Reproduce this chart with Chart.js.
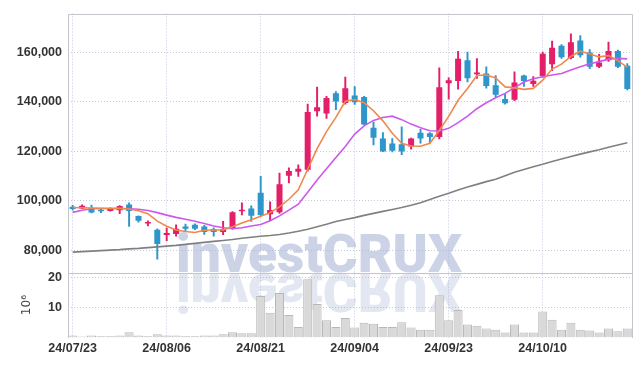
<!DOCTYPE html>
<html><head><meta charset="utf-8">
<script src="https://cdn.jsdelivr.net/npm/chart.js@4.4.1/dist/chart.umd.min.js"></script>
<style>html,body{margin:0;padding:0;background:#fff;overflow:hidden}</style>
</head><body>
<canvas id="c" width="642" height="366"></canvas>
<script>
const dates = ["24/07/23","24/07/24","24/07/25","24/07/26","24/07/29","24/07/30","24/07/31","24/08/01","24/08/02","24/08/05",
"24/08/06","24/08/07","24/08/08","24/08/09","24/08/12","24/08/13","24/08/14","24/08/16","24/08/19","24/08/20",
"24/08/21","24/08/22","24/08/23","24/08/26","24/08/27","24/08/28","24/08/29","24/08/30","24/09/02","24/09/03",
"24/09/04","24/09/05","24/09/06","24/09/09","24/09/10","24/09/11","24/09/12","24/09/13","24/09/19","24/09/20",
"24/09/23","24/09/24","24/09/25","24/09/26","24/09/27","24/09/30","24/10/02","24/10/04","24/10/07","24/10/08",
"24/10/10","24/10/11","24/10/14","24/10/15","24/10/16","24/10/17","24/10/18","24/10/21","24/10/22","24/10/23"];
const openP = [97700,97000,97000,96100,96000,96300,98600,93900,90900,88450,
86300,86700,89750,90400,89750,88700,87500,89000,95900,97000,
103300,94650,95450,110150,111750,112550,136200,135250,143450,139500,
142550,141900,129550,125150,123200,122900,122000,127550,127300,125850,
147450,148400,156750,151150,151450,146650,141100,140800,150550,147200,
150350,155150,162600,157700,164700,159900,154100,156750,160450,154500];
const highP = [98300,98500,98400,97000,97200,98100,99300,94000,92000,88800,
89100,90400,90650,90800,90200,89200,91750,95700,99300,98000,
109900,99700,111250,113350,114550,139100,145900,142200,144150,150000,
146150,142200,131800,127550,125150,129950,125400,128900,127600,153700,
149700,160300,160050,157400,154100,150550,143200,152100,150800,150150,
160050,164450,163100,167400,166700,161100,159100,164050,160800,155400];
const lowP = [96300,96900,95200,95300,95900,94900,89750,91500,89900,76500,
84050,85800,87750,88400,86500,85800,86450,88600,94400,91750,
94000,92000,95000,107250,109900,112000,134200,133250,136850,139000,
138900,130750,122650,119900,119800,118700,120900,123300,123300,125000,
141100,145050,148000,149450,145450,142000,139000,140500,146150,146150,
149800,152500,157500,157300,158000,153400,153800,156300,153800,144800];
const closeP = [96800,98100,95400,95900,97000,98000,96000,92000,91000,82700,
87100,88850,88850,88850,87500,87500,88700,95450,96400,94000,
94400,96400,106750,112050,112950,135900,137800,141500,140150,145450,
139800,130850,125550,120000,120300,120000,125150,125150,125850,145850,
148650,157400,149450,151850,146400,142800,139400,147750,148400,148500,
159400,161800,157950,164050,158750,154100,155800,160450,154100,145200];
const ma5 = [97400,97300,97200,97100,97000,97100,96800,96100,94900,91900,
89800,88300,87700,87300,88200,88300,88300,89600,91100,92400,
93800,95300,97600,100700,104500,112800,121100,128000,133700,140200,
140900,139600,136400,132300,127300,123300,122200,122100,123300,128400,
134100,140600,145400,150600,150800,149600,146000,145600,145000,145400,
148700,153200,155200,158300,160400,159300,158100,158600,156600,153900];
const ma20 = [95400,96300,96900,97000,97000,97000,96900,96700,96200,95300,
94300,93400,92600,91800,90900,89900,89200,88800,89200,89900,
90500,92000,94000,96300,98700,103500,108500,113000,117500,122000,
127000,130300,132500,133700,134200,132800,131000,129500,128300,128200,
129300,131600,134200,137200,139600,141600,143400,145700,148000,149300,
150100,150800,151400,152800,154100,155300,156200,157200,157500,157300];
const ma120 = [79400,79600,79800,80000,80200,80400,80700,80900,81200,81500,
81800,82100,82500,82900,83300,83700,84100,84500,85000,85400,
85800,86100,86500,87100,87800,88600,89600,90600,91700,92500,
93300,94200,95000,95800,96600,97400,98300,99300,100600,101900,
103100,104400,105600,106700,107800,108800,110200,111600,112700,113800,
114800,115900,116900,117900,118900,119800,120700,121700,122600,123500];
const volumeM = [0.7,0.35,0.7,0.4,0.4,0.7,1.75,0.7,0.4,1.1,
0.7,0.7,0.4,0.4,0.7,0.7,1.1,1.75,1.4,1.4,
13.8,8.2,14.8,7.5,3.5,19.3,11.1,5.7,3.5,6.5,
3.3,4.9,4.6,3.5,3.5,5.1,3.3,2.6,2.6,14.0,
5.7,9.1,4.3,3.9,3.0,2.6,1.7,4.3,1.7,1.7,
8.6,5.9,2.6,4.9,2.6,2.3,1.7,3.0,2.1,3.0];
const priceTicks = [80000,100000,120000,140000,160000];
const volumeTicks = [10,20];
const labelEvery = 10;

const UP = '#E31F6A', DOWN = '#2F96CB';
const candleColors = closeP.map((c,i)=> c>=openP[i] ? UP : DOWN);
const GRID = '#c3c9dc';
const TICKFONT = {family:"'Liberation Sans',Arial,sans-serif", size:12.5, weight:'bold'};

const watermark = {
  id:'watermark',
  beforeDatasetsDraw(chart){
    const ctx = chart.ctx;
    const txt = 'investCRUX';
    ctx.save();
    ctx.font = '900 54px Roboto, "DejaVu Sans", sans-serif';
    const w = ctx.measureText(txt).width;
    const sx = 286 / w;
    const cx = 319, base = 272;
    ctx.translate(cx, base);
    ctx.scale(sx, 1);
    ctx.textAlign = 'center';
    ctx.textBaseline = 'alphabetic';
    ctx.fillStyle = 'rgba(168,180,214,0.58)';
    ctx.fillText(txt, 0, 0);
    ctx.scale(1, -1);
    ctx.fillStyle = 'rgba(168,180,214,0.32)';
    ctx.fillText(txt, 0, -2);
    ctx.restore();
  }
};
const frame = {
  id:'frame',
  afterDraw(chart){
    const ctx = chart.ctx, a = chart.chartArea;
    const sep = chart.scales.y.bottom;
    ctx.save();
    ctx.strokeStyle = '#c4c4cc';
    ctx.lineWidth = 1;
    ctx.beginPath();
    ctx.moveTo(Math.round(a.left)+0.5, Math.round(a.bottom));
    ctx.lineTo(Math.round(a.left)+0.5, Math.round(a.top)+0.5);
    ctx.lineTo(Math.round(a.right)+0.5, Math.round(a.top)+0.5);
    ctx.lineTo(Math.round(a.right)+0.5, Math.round(a.bottom));
    ctx.moveTo(Math.round(a.left), Math.round(sep)+0.5);
    ctx.lineTo(Math.round(a.right)+1, Math.round(sep)+0.5);
    ctx.stroke();
    ctx.restore();
  }
};

new Chart(document.getElementById('c'), {
  type:'bar',
  data:{
    labels: dates,
    datasets:[
      {type:'line', data:ma5, borderColor:'#F0884C', borderWidth:1.6, pointRadius:0, yAxisID:'y', order:0},
      {type:'line', data:ma20, borderColor:'#CC58EC', borderWidth:1.6, pointRadius:0, yAxisID:'y', order:0},
      {type:'line', data:ma120, borderColor:'#808080', borderWidth:1.6, pointRadius:0, yAxisID:'y', order:0},
      {type:'bar', data: openP.map((o,i)=>[o, closeP[i]]), backgroundColor:candleColors, yAxisID:'y', grouped:false, barPercentage:0.64, categoryPercentage:1, minBarLength:1.5, order:1},
      {type:'bar', data: lowP.map((l,i)=>[l, highP[i]]), backgroundColor:candleColors, yAxisID:'y', grouped:false, barThickness:1.3, order:2},
      {type:'bar', data: volumeM, backgroundColor:'#d9d9d9', borderColor:'#b8b8b8', borderWidth:1, yAxisID:'v', grouped:false, barPercentage:0.96, categoryPercentage:1, order:3}
    ]
  },
  options:{
    responsive:false, animation:false, devicePixelRatio:1,
    layout:{padding:{top:9.3, right:10, left:0, bottom:0}},
    plugins:{legend:{display:false}, tooltip:{enabled:false}},
    scales:{
      x:{
        offset:true,
        grid:{offset:false, drawTicks:false, color:(c)=> (c.index % labelEvery === 0) ? GRID : 'rgba(0,0,0,0)'},
        border:{display:false, dash:[1,2]},
        ticks:{autoSkip:false, maxRotation:0, padding:4, color:'#333', font:TICKFONT,
          callback:(v,i)=> (i % labelEvery === 0) ? dates[i] : ''},
        afterFit:(s)=>{ s.height = 28.5; }
      },
      v:{
        stack:'p', stackWeight:1, position:'left', min:0, max:21.5,
        afterBuildTicks:(s)=>{ s.ticks = volumeTicks.map(v=>({value:v})); },
        grid:{drawTicks:false, color:GRID},
        border:{display:false, dash:[1,2]},
        ticks:{padding:6, color:'#333', font:TICKFONT},
        title:{display:true, text:'10\u2076', color:'#444', font:{family:"'DejaVu Sans',sans-serif", size:12}, padding:{top:20}},
        afterFit:(s)=>{ s.width = 68; }
      },
      y:{
        stack:'p', stackWeight:4, position:'left', min:71085, max:175600,
        afterBuildTicks:(s)=>{ s.ticks = priceTicks.map(v=>({value:v})); },
        grid:{drawTicks:false, color:GRID},
        border:{display:false, dash:[1,2]},
        ticks:{padding:6, color:'#333', font:TICKFONT, callback:(v)=> v.toLocaleString('en-US')},
        afterFit:(s)=>{ s.width = 68; }
      }
    }
  },
  plugins:[watermark, frame]
});
</script>
</body></html>
